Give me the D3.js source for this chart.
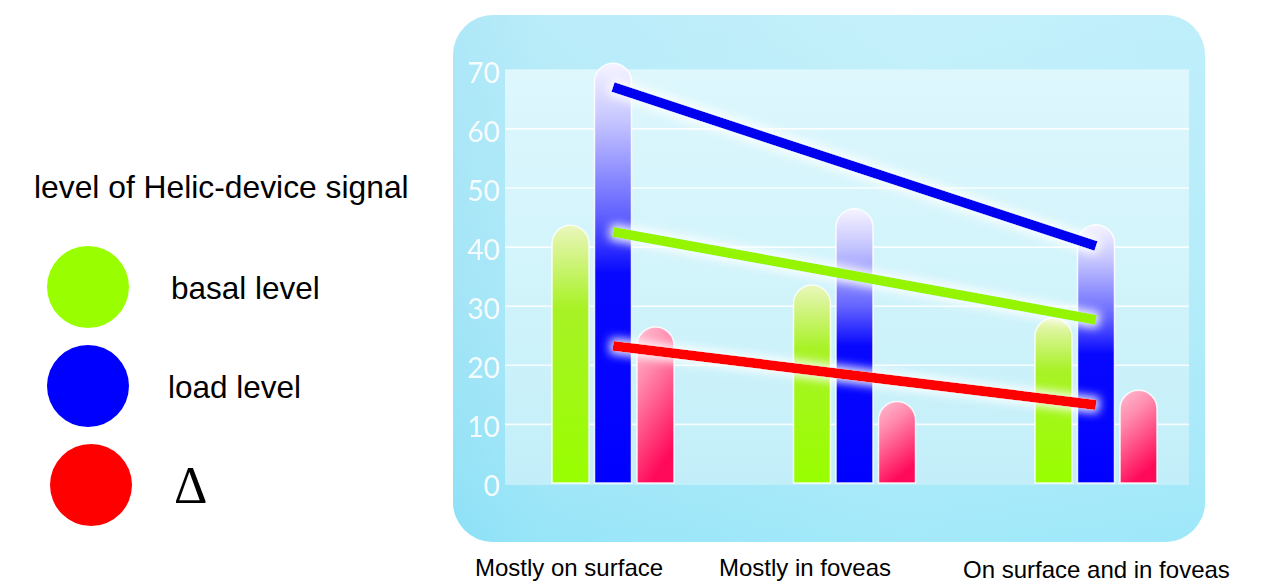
<!DOCTYPE html>
<html>
<head>
<meta charset="utf-8">
<script src="https://cdn.jsdelivr.net/npm/d3@7"></script>
<style>
  html, body { margin: 0; padding: 0; background: #ffffff; }
  svg { display: block; }
</style>
</head>
<body>
<svg id="chart" width="1262" height="582"></svg>
<script>
// Categories along the bottom
const categories = ["Mostly on surface", "Mostly in foveas", "On surface and in foveas"];

// Series (legend order)
const seriesNames = ["basal level", "load level", "\u0394"];
const seriesColors = ["#99ff00", "#0000ff", "#ff0000"];

// Bar heights per category
const basalValues = [43.6, 33.5, 27.9];
const loadValues  = [71, 46.4, 43.7];
const deltaValues = [26.4, 13.8, 15.7];

// Straight trend segments from the first to the last category
const basalTrend = [42.5, 27.6];
const loadTrend  = [67, 40.1];
const deltaTrend = [23.2, 13.2];

// Y axis ticks
const yTicks = [0, 10, 20, 30, 40, 50, 60, 70];

const legendTitle = "level of Helic-device signal";

const svg = d3.select("#chart");
const defs = svg.append("defs");

// ---------- scales ----------
const y = d3.scaleLinear().domain([0, 70]).range([483, 69.3]);
const plotLeft = 505, plotRight = 1189;
const xGroup = d3.scalePoint().domain(categories).range([613, 1096]);
const xInner = d3.scaleBand().domain(seriesNames).range([-61, 61]).paddingInner(0.13);
const xLabel = d3.scalePoint().domain(categories).range([475, 963]);

// ---------- gradients ----------
function linGrad(id, stops, x2 = 0, y2 = 1, x1 = 0, y1 = 0) {
  const g = defs.append("linearGradient").attr("id", id)
    .attr("x1", x1).attr("y1", y1).attr("x2", x2).attr("y2", y2);
  stops.forEach(s => g.append("stop").attr("offset", s[0]).attr("stop-color", s[1]));
}
linGrad("panelGrad", [[0, "#c8f1fb"], [0.55, "#b2ecf9"], [0.86, "#9be7f9"], [1, "#8be4f9"]]);
linGrad("panelSide", [[0, "#8fdcf3"], [0.12, "#a8e6f7"], [0.6, "#c0effa"], [1, "#b4ecfa"]], 1, 0);
linGrad("innerGrad", [[0, "#ddf7fd"], [0.5, "#d2f4fb"], [1, "#c2eef9"]]);
linGrad("grad0", [[0, "#eaf7bc"], [0.12, "#d2f484"], [0.32, "#a8f226"], [1, "#99ff00"]]);
linGrad("grad1", [[0, "#f6f4ff"], [0.14, "#c4c4ff"], [0.36, "#6262ff"], [0.5, "#0808ff"], [1, "#0000ff"]]);
linGrad("grad2", [[0, "#ffbfd2"], [0.35, "#ff8aad"], [1, "#ff0a5a"]], 0.35, 1);

// glow behind the trend lines
const halo = defs.append("filter").attr("id", "halo")
  .attr("filterUnits", "userSpaceOnUse").attr("x", 0).attr("y", 0).attr("width", 1262).attr("height", 582);
halo.append("feMorphology").attr("in", "SourceAlpha").attr("operator", "dilate").attr("radius", 3).attr("result", "d");
halo.append("feGaussianBlur").attr("in", "d").attr("stdDeviation", 5).attr("result", "b");
halo.append("feFlood").attr("flood-color", "#ffffff").attr("flood-opacity", 0.9);
halo.append("feComposite").attr("in2", "b").attr("operator", "in").attr("result", "glow");
const hm = halo.append("feMerge");
hm.append("feMergeNode").attr("in", "glow");
hm.append("feMergeNode").attr("in", "SourceGraphic");

// ---------- panel ----------
svg.append("rect").attr("x", 453).attr("y", 15).attr("width", 752).attr("height", 527)
  .attr("rx", 40).attr("fill", "url(#panelGrad)");
svg.append("rect").attr("x", 453).attr("y", 15).attr("width", 752).attr("height", 527)
  .attr("rx", 40).attr("fill", "url(#panelSide)").attr("opacity", 0.45);

// inner plotting area
svg.append("rect").attr("x", plotLeft).attr("y", y(70))
  .attr("width", plotRight - plotLeft).attr("height", y(0) + 2 - y(70))
  .attr("fill", "url(#innerGrad)");

// gridlines
const grid = svg.append("g").attr("transform", `translate(${plotLeft},0)`)
  .call(d3.axisLeft(y).tickValues(yTicks.filter(t => t > 0 && t < 70))
    .tickSize(-(plotRight - plotLeft)).tickFormat(""));
grid.select(".domain").remove();
grid.selectAll(".tick line").attr("stroke", "#ffffff").attr("stroke-width", 1.6).attr("opacity", 0.85);

// y tick labels
const yAxis = svg.append("g").attr("transform", `translate(${plotLeft},0)`)
  .call(d3.axisLeft(y).tickValues(yTicks).tickSize(0).tickPadding(5));
yAxis.select(".domain").remove();
yAxis.selectAll(".tick text")
  .attr("dy", "0.46em")
  .attr("fill", "#ffffff")
  .attr("opacity", 0.9)
  .style("font-family", "Lato, 'Open Sans', sans-serif")
  .style("font-weight", 400)
  .style("font-size", "28px");

// ---------- bars ----------
const seriesValues = [basalValues, loadValues, deltaValues];
const barData = [];
categories.forEach((c, ci) => {
  seriesNames.forEach((s, si) => barData.push({ cat: c, series: s, si, value: seriesValues[si][ci] }));
});

function barPath(d) {
  const w = xInner.bandwidth();
  const x0 = xGroup(d.cat) + xInner(d.series);
  const r = w / 2;
  const top = y(d.value);
  const bottom = y(0);
  const p = d3.path();
  p.moveTo(x0, bottom);
  p.lineTo(x0, top + r);
  p.arc(x0 + r, top + r, r, Math.PI, 0);
  p.lineTo(x0 + w, bottom);
  p.closePath();
  return p.toString();
}

svg.append("g").selectAll("path").data(barData).join("path")
  .attr("d", barPath)
  .attr("fill", d => `url(#grad${d.si})`)
  .attr("stroke", "#ffffff")
  .attr("stroke-opacity", 0.85)
  .attr("stroke-width", 1.5);

// ---------- trend lines ----------
const trends = [
  { values: basalTrend, color: "#95f500" },
  { values: loadTrend, color: "#0000f0" },
  { values: deltaTrend, color: "#ff0000" }
];
const ends = [categories[0], categories[categories.length - 1]];
const lineGen = d3.line().x((v, i) => xGroup(ends[i])).y(v => y(v));
svg.append("g").selectAll("path").data(trends).join("path")
  .attr("d", d => lineGen(d.values))
  .attr("fill", "none")
  .attr("stroke", d => d.color)
  .attr("stroke-width", 10)
  .attr("stroke-linecap", "butt")
  .attr("filter", "url(#halo)");

// ---------- category labels ----------
svg.append("g").selectAll("text").data(categories).join("text")
  .attr("x", d => xLabel(d))
  .attr("y", (d, i) => i === 2 ? 578 : 576)
  .attr("fill", "#000000")
  .style("font-family", "'Liberation Sans', Arial, sans-serif")
  .style("font-size", "24px")
  .text(d => d);

// ---------- legend ----------
const legend = svg.append("g");
legend.append("text")
  .attr("x", 34).attr("y", 198)
  .style("font-family", "'Liberation Sans', Arial, sans-serif")
  .style("font-size", "31.8px")
  .attr("fill", "#000")
  .text(legendTitle);

const legendRows = seriesNames.map((s, i) => ({ name: s, color: seriesColors[i], i }));
const rowY = d3.scalePoint().domain(seriesNames).range([287, 485]);
const rowItems = legend.selectAll("g.row").data(legendRows).join("g").attr("class", "row");
rowItems.append("circle")
  .attr("cx", d => d.i === 2 ? 91 : 88)
  .attr("cy", d => rowY(d.name))
  .attr("r", 41)
  .attr("fill", d => d.color);
rowItems.append("text")
  .attr("x", d => d.i === 0 ? 171 : (d.i === 1 ? 168 : 174))
  .attr("y", d => rowY(d.name) + (d.i === 2 ? 18 : 12))
  .attr("fill", "#000")
  .style("font-family", d => d.i === 2 ? "'Liberation Serif', 'Times New Roman', serif" : "'Liberation Sans', Arial, sans-serif")
  .style("font-size", d => d.i === 2 ? "52px" : "31.5px")
  .text(d => d.name);
</script>
</body>
</html>
